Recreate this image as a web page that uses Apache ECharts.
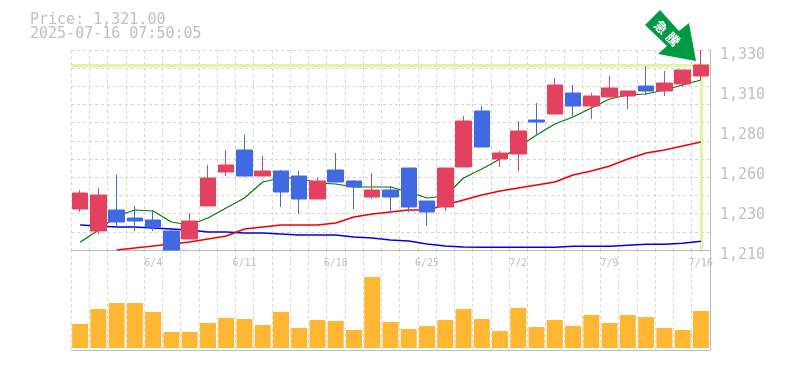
<!DOCTYPE html>
<html>
<head>
<meta charset="utf-8">
<title>Price chart</title>
<script src="https://cdn.jsdelivr.net/npm/echarts@6/dist/echarts.min.js"></script>
<style>
	html, body {margin: 0; padding: 0; background: #fff;}
	#chart {width: 785px; height: 370px;}
</style>
</head>
<body>
<div id="chart"></div>
<script>
var dates = ['5/29','5/30','6/2','6/3','6/4','6/5','6/6','6/9','6/10','6/11','6/12','6/13','6/16','6/17','6/18','6/19','6/20',
	'6/23','6/24','6/25','6/26','6/27','6/30','7/1','7/2','7/3','7/4','7/7','7/8','7/9','7/10','7/11','7/14','7/15','7/16'];

var opens = [1234.6,1221.4,1234,1229.2,1228,1221.4,1216.6,1236.4,1256.8,1270,1254.4,1257.4,1254.4,1240.6,1258,1251.4,1241.8,
	1246,1259.2,1239.4,1235.8,1259.8,1293.4,1264.6,1267.6,1288,1291.6,1304.2,1296.4,1301.8,1302.4,1308.4,1305.4,1309.6,1314.4];
var closes = [1244.2,1243,1226.8,1227.4,1223.8,1210,1227.4,1253.2,1261,1254.4,1257.4,1244.8,1240.6,1251.4,1250.8,1247.8,1246,
	1241.8,1235.8,1232.8,1259.2,1287.4,1271.8,1268.2,1281.4,1286.8,1309,1296.4,1302.4,1307.2,1305.4,1305.4,1310.2,1318,1321];
var lows = [1232.8,1219.6,1223.2,1221.4,1221.4,1210,1216.6,1236.4,1254.4,1253.8,1254.4,1235.8,1231.6,1240.6,1250.8,1234.6,1240.6,
	1232.8,1232.8,1224.4,1233.4,1259.8,1271.8,1259.8,1257.4,1279.6,1291.6,1290.4,1288.6,1301.8,1294.6,1303,1302.4,1307.8,1312];
var highs = [1246,1247.2,1255,1236.4,1234,1222,1232.2,1261,1270,1279,1266.4,1258,1257.4,1253.2,1268.2,1252,1256.2,
	1248.4,1259.2,1239.4,1259.2,1290.4,1296.4,1269.4,1287.4,1298.2,1313.2,1309,1304.2,1314.4,1305.4,1320.4,1317.4,1318,1330];

var maShort = [1214.6,1222,1230.4,1234,1233.4,1226.8,1225,1229.2,1235.2,1241.2,1250.8,1253.2,1253.2,1250.2,1249.6,1247.8,1247.8,
	1247.8,1244.8,1241.2,1242.4,1253.2,1258.6,1264.6,1271.8,1279,1285.6,1289.8,1295.2,1300.6,1303,1303.6,1306,1309,1312];
var maMiddle = [null,null,1210,1211.2,1212.4,1213.6,1214.8,1216.6,1218.4,1222.6,1223.8,1225,1225,1225,1226.2,1229.8,1231.6,
	1232.8,1234,1234,1237,1240,1243,1245.4,1247.2,1249,1250.8,1255,1257.4,1260.4,1264.6,1268.2,1270,1272.4,1274.8];
var maLong = [1225,1224.4,1223.8,1223.8,1223.2,1222.6,1222,1220.8,1220.8,1220.2,1220.2,1219.6,1219,1219,1219,1217.8,1217.2,
	1216,1215.4,1213.6,1212.4,1211.8,1211.6,1211.6,1211.6,1211.6,1211.6,1212.2,1212.2,1212.2,1212.8,1213.4,1213.4,1214,1215.2];

var volumes = [24,39,45,45,36,16,16,25,30,29,23,36,20,28,27,18,71,26,19,22,28,39,29,17,40,21,28,22,33,25,33,31,20,18,37];

var priceTicks = [1330,1306,1282,1258,1234,1210];
var priceTickLabels = ['1,330','1,310','1,280','1,260','1,230','1,210'];
var lastPrice = 1321;
var titleLines = ['Price: 1,321.00','2025-07-16 07:50:05'];

var GRID_COLOR = '#d6d6d6';
var FRAME_COLOR = '#bbbbbb';
var TEXT_COLOR = '#c0c0c0';
var MONO = '"DejaVu Sans Mono", monospace';

var candles = [];
for (var i=0; i<dates.length; i++){
	candles.push([opens[i], closes[i], lows[i], highs[i]]);
}

// 11 dashed rows between min and max, labels only sit on every 5th of the price range
var gridRows = [];
for (var r=0; r<=11; r++){
	gridRows.push(1210 + r*120/11);
}

function maSeries(name, data, color, width, extra){
	var s = {
		name: name,
		type: 'line',
		data: data,
		symbol: 'none',
		z: 3,
		lineStyle: {color: color, width: width}
	};
	if (extra) s.markLine = extra;
	return s;
}

function arrowChar(ch, x, y){
	return {
		type: 'text',
		z: 21,
		x: x,
		y: y,
		rotation: -Math.PI/4,
		style: {
			text: ch,
			fill: '#fff',
			font: 'bold 13px "Noto Sans CJK JP"',
			align: 'center',
			verticalAlign: 'middle'
		}
	};
}

var lastDate = dates[dates.length-1];
var priceLine = {
	silent: true,
	symbol: 'none',
	z: 2,
	label: {show: false},
	lineStyle: {color: '#e4f3a5', width: 3, type: 'solid'},
	data: [
		[{coord: [dates[0], lastPrice], x: 71}, {coord: [lastDate, lastPrice], x: 710}],
		[{coord: [lastDate, lastPrice]}, {coord: [lastDate, 1210]}]
	]
};

var option = {
	animation: false,
	backgroundColor: '#fff',
	title: {
		text: titleLines.join('\n'),
		left: 25,
		top: 8,
		textStyle: {fontFamily: MONO, fontSize: 15, fontWeight: 'normal', color: TEXT_COLOR, lineHeight: 14}
	},
	grid: [
		{left: 71, top: 50, width: 639, height: 200},
		{left: 71, top: 250, width: 639, height: 100}
	],
	xAxis: [
		{
			type: 'category',
			gridIndex: 0,
			data: dates,
			boundaryGap: true,
			axisLine: {show: true, lineStyle: {color: FRAME_COLOR, width: 1}},
			axisTick: {show: false},
			axisLabel: {
				color: TEXT_COLOR,
				fontFamily: MONO,
				fontSize: 10,
				margin: 8,
				hideOverlap: false,
				interval: function(idx){ return idx % 5 == 4; }
			},
			splitLine: {show: true, interval: 0, lineStyle: {color: GRID_COLOR, type: [3,3]}}
		},
		{
			type: 'category',
			gridIndex: 1,
			data: dates,
			boundaryGap: true,
			axisLine: {show: true, onZero: false, lineStyle: {color: FRAME_COLOR, width: 1}},
			axisTick: {show: false},
			axisLabel: {show: false},
			splitLine: {show: true, interval: 0, lineStyle: {color: GRID_COLOR, type: [3,3]}}
		}
	],
	yAxis: [
		{
			type: 'value',
			gridIndex: 0,
			position: 'right',
			min: 1210,
			max: 1330,
			axisLine: {show: true, lineStyle: {color: FRAME_COLOR, width: 1}},
			axisTick: {show: false, customValues: gridRows},
			axisLabel: {
				customValues: priceTicks,
				color: TEXT_COLOR,
				fontFamily: MONO,
				fontSize: 15,
				margin: 10,
				verticalAlign: 'top',
				lineHeight: 10,
				formatter: function(v){ return priceTickLabels[priceTicks.indexOf(v)]; }
			},
			splitLine: {show: true, lineStyle: {color: GRID_COLOR, type: [3,3]}}
		},
		{
			type: 'value',
			gridIndex: 1,
			position: 'right',
			min: -2,
			max: 98,
			axisLine: {show: true, lineStyle: {color: FRAME_COLOR, width: 1}},
			axisTick: {show: false},
			axisLabel: {show: false},
			splitLine: {show: false}
		}
	],
	series: [
		maSeries('long', maLong, '#0000ee', 1.5, priceLine),
		maSeries('middle', maMiddle, '#ee0000', 1.5),
		maSeries('short', maShort, '#007a00', 1.2),
		{
			name: 'price',
			type: 'candlestick',
			data: candles,
			barWidth: 16,
			z: 4,
			itemStyle: {
				color: '#e2425f',
				color0: '#4169e1',
				borderColor: '#e2425f',
				borderColor0: '#4169e1',
				borderWidth: 1
			}
		},
		{
			name: 'volume',
			type: 'bar',
			xAxisIndex: 1,
			yAxisIndex: 1,
			data: volumes,
			barWidth: 16,
			itemStyle: {color: '#ffb733'}
		}
	],
	graphic: [
		{
			type: 'polygon',
			z: 20,
			shape: {points: [[660,10],[679,31],[689,23],[696,61],[658,54],[667,46],[645,25]]},
			style: {fill: '#009944'}
		},
		arrowChar('急', 661, 27),
		arrowChar('騰', 673, 39)
	]
};

var chart = echarts.init(document.getElementById('chart'));
chart.setOption(option);
</script>
</body>
</html>
